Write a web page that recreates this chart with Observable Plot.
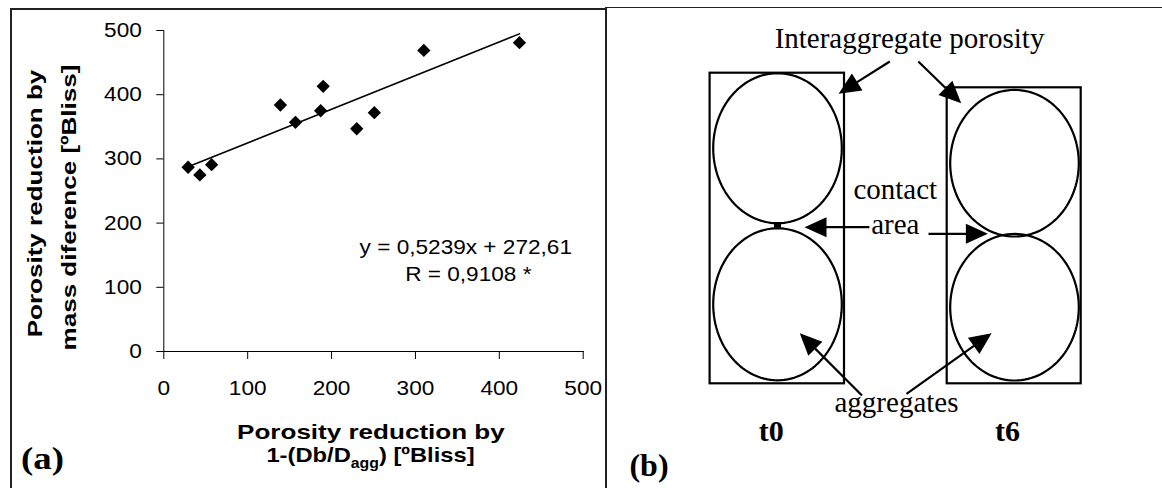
<!DOCTYPE html>
<html><head><meta charset="utf-8">
<script src="https://cdn.jsdelivr.net/npm/d3@7"></script>
<script src="https://cdn.jsdelivr.net/npm/@observablehq/plot@0.6"></script>
<style>
html,body{margin:0;padding:0;background:#fff;}
#root{position:relative;width:1162px;height:488px;overflow:hidden;background:#fff;}
#root svg{position:absolute;top:0;overflow:visible;}
.bd{position:absolute;background:#222;}
</style></head><body><div id="root"></div>
<script>
// ---------- data (panel a) ----------
const xReduction = [29, 43, 57, 139, 157, 187, 190, 230, 251, 310, 424];   // 1-(Db/Dagg) [ºBliss]
const yReduction = [287, 275, 291, 384, 357, 375, 413, 347, 372, 469, 481]; // mass difference [ºBliss]
const xTicks = [0, 100, 200, 300, 400, 500];
const yTicks = [0, 100, 200, 300, 400, 500];
const trendSlope = 0.5239;
const trendIntercept = 272.61;
const equationLines = ["y = 0,5239x + 272,61", "R = 0,9108 *"];
const xTitleLines = ["Porosity reduction by", "1-(Db/Dagg) [ºBliss]"];
const xTitleSubParts = ["1-(Db/D", "agg", ") [ºBliss]"];
const yTitleLines = ["Porosity reduction by", "mass diference [ºBliss]"];
const panelLabels = ["(a)", "(b)"];

// ---------- diagram (panel b) labels ----------
const diagramLabels = ["Interaggregate porosity", "contact", "area", "aggregates"];
const stageLabels = ["t0", "t6"];

// ---------- diagram geometry (pixel layout of the sketch) ----------
const boxes = [
  {x1: 709.6, x2: 844, y1: 72.7, y2: 383.3},
  {x1: 946.7, x2: 1080.7, y1: 87.3, y2: 383.3}
];
const ovals = [
  {id: 0, cx: 777, cy: 147.7, rx: 64.3, ry: 75},
  {id: 1, cx: 777, cy: 303.8, rx: 64.3, ry: 76},
  {id: 2, cx: 1014, cy: 162.7, rx: 64.3, ry: 73.3},
  {id: 3, cx: 1014, cy: 306.7, rx: 64.3, ry: 73.3}
];
const contactBar = [{x1: 774, x2: 781, y1: 222.7, y2: 227.8}];
const arrows = [
  {x1: 889.3, y1: 61, x2: 838.1, y2: 93.3},
  {x1: 917.8, y1: 61, x2: 960.7, y2: 102.7},
  {x1: 868.9, y1: 226.7, x2: 804, y2: 226.7},
  {x1: 928, y1: 233.3, x2: 987.4, y2: 233.3},
  {x1: 861.5, y1: 395, x2: 799.3, y2: 332.7},
  {x1: 906, y1: 393.3, x2: 991.1, y2: 332.7}
];
const labelPos = [
  {x: 909, y: 38.7}, {x: 894.8, y: 189}, {x: 894.8, y: 224.2}, {x: 896, y: 402.4}
];
const stagePos = [{x: 770.7, y: 431}, {x: 1006.9, y: 431}];

const root = document.getElementById("root");
const SANS = "'Liberation Sans', Arial, Helvetica, sans-serif";
const SERIF = "'Liberation Serif', 'Times New Roman', serif";

// ---------- panel (a) ----------
const A = {W: 606, H: 488, mL: 163.3, mR: 23.3, mT: 30, mB: 137};
const pts = xReduction.map((x, i) => ({x, y: yReduction[i]}));
const [xMin, xMax] = d3.extent(xReduction);
const trend = [xMin, xMax].map(x => ({x, y: trendSlope * x + trendIntercept}));
const FS = 20, FB = 21;

const plotA = Plot.plot({
  width: A.W, height: A.H,
  marginLeft: A.mL, marginRight: A.mR, marginTop: A.mT, marginBottom: A.mB,
  style: {fontFamily: SANS, fontSize: FS + "px", color: "#000", background: "transparent", overflow: "visible"},
  x: {domain: [0, 500], ticks: xTicks, tickSize: 8, tickPadding: 21, line: true, label: null, tickFormat: d => String(d)},
  y: {domain: [0, 500], ticks: yTicks, tickSize: 7, tickPadding: 15, line: true, label: null, tickFormat: d => String(d)},
  marks: [
    Plot.line(trend, {x: "x", y: "y", stroke: "#000", strokeWidth: 1.6}),
    Plot.dot(pts, {x: "x", y: "y", symbol: "diamond2", r: 6, fill: "#000", stroke: "none"}),
    Plot.text([equationLines[0]], {x: 360, y: 162, text: d => d, textAnchor: "middle", lineAnchor: "middle", fontSize: FS}),
    Plot.text([equationLines[1]], {x: 363, y: 120, text: d => d, textAnchor: "middle", lineAnchor: "middle", fontSize: FS}),
    // y title (two rotated lines)
    Plot.text([yTitleLines[0]], {frameAnchor: "top-left", dx: 35 - A.mL, dy: 203 - A.mT, rotate: -90, text: d => d, fontWeight: "bold", fontSize: FB, lineAnchor: "middle", textAnchor: "middle"}),
    Plot.text([yTitleLines[1]], {frameAnchor: "top-left", dx: 69 - A.mL, dy: 207 - A.mT, rotate: -90, text: d => d, fontWeight: "bold", fontSize: FB, lineAnchor: "middle", textAnchor: "middle"}),
    // x title
    Plot.text([xTitleLines[0]], {frameAnchor: "top-left", dx: 370.4 - A.mL, dy: 431.5 - A.mT, text: d => d, fontWeight: "bold", fontSize: FB, lineAnchor: "middle", textAnchor: "middle"}),
    Plot.text([xTitleLines[1]], {frameAnchor: "top-left", dx: 370 - A.mL, dy: 455 - A.mT, text: d => d, fontWeight: "bold", fontSize: FB, lineAnchor: "middle", textAnchor: "middle"}),
    // panel label
    Plot.text([panelLabels[0]], {frameAnchor: "top-left", dx: 42 - A.mL, dy: 458 - A.mT, text: d => d, fontWeight: "bold", fontSize: 32, fontFamily: SERIF, lineAnchor: "middle", textAnchor: "middle"})
  ]
});
plotA.style.left = "0px";
root.appendChild(plotA);

// ---------- panel (b) ----------
const ovalPts = [];
for (const o of ovals) {
  for (let k = 0; k <= 120; k++) {
    const t = 2 * Math.PI * k / 120;
    ovalPts.push({id: o.id, x: o.cx + o.rx * Math.cos(t), y: o.cy + o.ry * Math.sin(t)});
  }
}
const headL = 22, headW = 20;
const arrowHead = {draw(ctx) { ctx.moveTo(0, 0); ctx.lineTo(-headW / 2, headL); ctx.lineTo(headW / 2, headL); ctx.closePath(); }};
const heads = arrows.map(a => ({x: a.x2, y: a.y2, angle: Math.atan2(a.x2 - a.x1, -(a.y2 - a.y1)) * 180 / Math.PI}));
const shafts = arrows.map(a => {
  const dx = a.x2 - a.x1, dy = a.y2 - a.y1, L = Math.hypot(dx, dy);
  return {x1: a.x1, y1: a.y1, x2: a.x2 - dx / L * (headL - 2), y2: a.y2 - dy / L * (headL - 2)};
});
const labelsB = diagramLabels.map((t, i) => ({t, ...labelPos[i]}));
const stagesB = stageLabels.map((t, i) => ({t, ...stagePos[i]}));

const plotB = Plot.plot({
  width: 556, height: 488, margin: 0,
  x: {domain: [606, 1162], range: [0, 556], axis: null},
  y: {domain: [0, 488], range: [0, 488], axis: null},
  style: {fontFamily: SERIF, fontSize: "29px", color: "#000", background: "transparent", overflow: "visible"},
  marks: [
    Plot.rect(boxes, {x1: "x1", x2: "x2", y1: "y1", y2: "y2", fill: "none", stroke: "#000", strokeWidth: 2.2}),
    Plot.line(ovalPts, {x: "x", y: "y", z: "id", stroke: "#000", strokeWidth: 2.2}),
    Plot.rect(contactBar, {x1: "x1", x2: "x2", y1: "y1", y2: "y2", fill: "#000"}),
    Plot.link(shafts, {x1: "x1", y1: "y1", x2: "x2", y2: "y2", stroke: "#000", strokeWidth: 2.2}),
    Plot.dot(heads, {x: "x", y: "y", rotate: "angle", symbol: arrowHead, fill: "#000", stroke: "none"}),
    Plot.text(labelsB, {x: "x", y: "y", text: "t", fontSize: 29, lineAnchor: "middle", textAnchor: "middle"}),
    Plot.text(stagesB, {x: "x", y: "y", text: "t", fontSize: 30, fontWeight: "bold", lineAnchor: "middle", textAnchor: "middle"}),
    Plot.text([panelLabels[1]], {x: [648.5], y: [464.8], text: d => d, fontSize: 32, fontWeight: "bold", lineAnchor: "middle", textAnchor: "middle"})
  ]
});
plotB.style.left = "606px";
root.appendChild(plotB);

// ---------- text post-processing: subscript + horizontal widening ----------
plotA.querySelectorAll("text").forEach(t => {
  if (t.textContent === xTitleLines[1]) {
    t.textContent = "";
    const ns = "http://www.w3.org/2000/svg";
    const a = document.createElementNS(ns, "tspan"); a.textContent = xTitleSubParts[0];
    const b = document.createElementNS(ns, "tspan"); b.textContent = xTitleSubParts[1];
    b.setAttribute("font-size", "14"); b.setAttribute("dy", "6");
    const c = document.createElementNS(ns, "tspan"); c.textContent = xTitleSubParts[2]; c.setAttribute("dy", "-6");
    t.append(a, b, c);
  }
});
function widen(t, f) {
  const w = t.getComputedTextLength();
  if (w > 0) { t.setAttribute("textLength", (w * f).toFixed(1)); t.setAttribute("lengthAdjust", "spacingAndGlyphs"); }
}
plotA.querySelectorAll("text").forEach(t => {
  const txt = t.textContent;
  if (txt === panelLabels[0]) widen(t, 1.15);
  else if (txt === xTitleSubParts.join("")) widen(t, 1.13);
  else if (yTitleLines.includes(txt) || xTitleLines.includes(txt)) widen(t, 1.24);
  else widen(t, 1.13);
});

// ---------- panel borders ----------
function bar(l, t, w, h) { const d = document.createElement("div"); d.className = "bd"; Object.assign(d.style, {left: l + "px", top: t + "px", width: w + "px", height: h + "px"}); root.appendChild(d); }
bar(10, 8, 2, 480);
bar(10, 8, 597, 2);
bar(605, 6.5, 2, 482);
bar(605, 6.5, 557, 1.6);
</script></body></html>
